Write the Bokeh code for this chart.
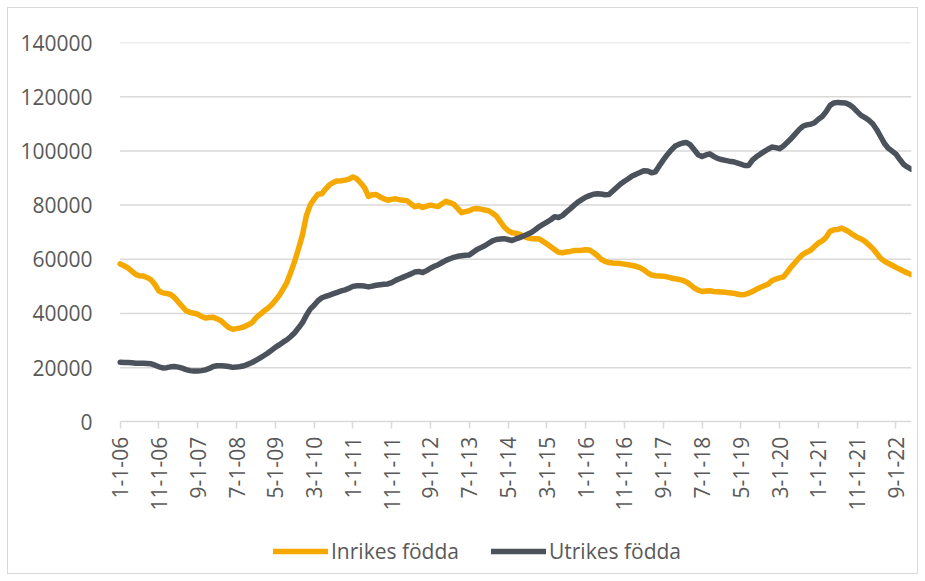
import math
from bokeh.plotting import figure
from bokeh.models import ColumnDataSource, FixedTicker, Legend, LegendItem, NumeralTickFormatter
from bokeh.embed import file_html
from bokeh.resources import INLINE

# Monthly values, Jan 2006 .. Jan 2023 (thousands)
inrikes_k = [
    58.3, 57.6, 56.8, 55.6, 54.4, 53.9, 53.8, 53.2, 52.4, 50.6,
    48.3, 47.6, 47.4, 47.0, 45.9, 44.2, 42.6, 41.0, 40.4, 40.1,
    39.7, 38.9, 38.3, 38.5, 38.6, 38.0, 37.3, 36.0, 34.8, 34.2,
    34.4, 34.7, 35.1, 35.8, 36.6, 38.3, 39.6, 40.8, 41.8, 43.1,
    44.8, 46.6, 49.0, 51.5, 55.3, 59.3, 64.0, 69.0, 76.0, 80.0,
    82.2, 84.0, 84.2, 86.0, 87.5, 88.4, 88.9, 89.0, 89.2, 89.6,
    90.4, 89.7, 88.2, 86.4, 83.2, 83.8, 83.9, 83.0, 82.3, 81.8,
    82.1, 82.3, 82.0, 81.8, 81.6, 80.4, 79.4, 79.8, 79.1, 79.6,
    80.0, 79.7, 79.5, 80.5, 81.4, 80.9, 80.3, 78.8, 77.2, 77.6,
    77.9, 78.6, 78.7, 78.5, 78.2, 77.9, 77.0, 75.9, 73.9, 71.9,
    70.6, 69.8, 69.6, 69.2, 68.5, 67.9, 67.6, 67.6, 67.5, 66.6,
    65.7, 64.6, 63.6, 62.6, 62.4, 62.7, 62.9, 63.2, 63.2, 63.3,
    63.5, 63.4, 62.5, 61.4, 60.0, 59.2, 58.8, 58.6, 58.5, 58.4,
    58.2, 58.0, 57.7, 57.4, 56.9, 56.1, 55.0, 54.2, 53.9, 53.8,
    53.7, 53.5, 53.1, 52.8, 52.6, 52.2, 51.6, 50.6, 49.4, 48.6,
    48.1, 48.3, 48.4, 48.1, 48.0, 47.9, 47.8, 47.6, 47.5, 47.2,
    46.9, 47.0, 47.5, 48.1, 48.9, 49.6, 50.2, 50.8, 52.1, 52.7,
    53.1, 53.5, 55.3, 57.2, 58.8, 60.5, 61.8, 62.6, 63.3, 64.7,
    66.0, 66.8, 68.1, 70.3, 70.9, 71.0, 71.5, 70.8, 70.0, 69.0,
    68.1, 67.5, 66.6, 65.3, 64.0, 62.2, 60.4, 59.3, 58.5, 57.8,
    57.0, 56.3, 55.6, 54.9, 54.3,
]
utrikes_k = [
    22.0, 21.9, 21.9, 21.8, 21.6, 21.6, 21.6, 21.5, 21.4, 20.9,
    20.3, 19.9, 20.0, 20.3, 20.4, 20.2, 19.8, 19.3, 18.9, 18.8,
    18.8, 18.9, 19.2, 19.7, 20.4, 20.7, 20.7, 20.6, 20.4, 20.1,
    20.2, 20.4, 20.7, 21.3, 21.9, 22.7, 23.5, 24.4, 25.3, 26.4,
    27.5, 28.4, 29.4, 30.3, 31.5, 32.9, 34.7, 36.6, 39.3, 41.6,
    43.0, 44.7, 45.8, 46.3, 46.8, 47.3, 47.8, 48.3, 48.7, 49.3,
    50.0, 50.2, 50.2, 50.1, 49.8, 50.1, 50.4, 50.6, 50.8, 50.9,
    51.4, 52.2, 52.8, 53.4, 54.0, 54.6, 55.3, 55.5, 55.1, 55.8,
    56.7, 57.4, 58.0, 58.8, 59.6, 60.2, 60.7, 61.1, 61.3, 61.5,
    61.6, 62.6, 63.6, 64.3, 65.0, 65.9, 66.8, 67.3, 67.5, 67.6,
    67.3, 66.9, 67.5, 68.0, 68.6, 69.2, 69.9, 70.9, 72.0, 72.9,
    73.7, 74.6, 75.7, 75.4, 76.1, 77.4, 78.6, 79.9, 81.1, 82.0,
    82.9, 83.5, 84.0, 84.2, 84.1, 83.8, 83.9, 85.2, 86.5, 87.8,
    88.8, 89.7, 90.7, 91.4, 92.0, 92.7, 92.6, 91.9, 92.3, 94.5,
    96.6, 98.5, 100.2, 101.7, 102.4, 102.9, 103.1, 102.2, 100.4, 98.6,
    97.9, 98.5, 98.9, 98.0, 97.2, 96.8, 96.5, 96.2, 96.0, 95.6,
    95.1, 94.6, 94.6, 96.6, 97.8, 98.8, 99.7, 100.6, 101.4, 101.2,
    100.8, 101.8, 103.2, 104.6, 106.2, 107.8, 109.1, 109.6, 109.8, 110.4,
    111.7, 112.7, 114.5, 116.8, 117.7, 117.9, 117.8, 117.7, 117.0, 116.0,
    114.5, 113.1, 112.3, 111.3, 110.0, 107.9, 105.4, 102.8, 101.0, 99.9,
    98.8, 96.8, 95.0, 94.0, 93.2,
]
tick_labels = [
    "1-1-06", "11-1-06", "9-1-07", "7-1-08", "5-1-09", "3-1-10", "1-1-11",
    "11-1-11", "9-1-12", "7-1-13", "5-1-14", "3-1-15", "1-1-16", "11-1-16",
    "9-1-17", "7-1-18", "5-1-19", "3-1-20", "1-1-21", "11-1-21", "9-1-22",
]
tick_step = 10
y_ticks = [0, 20000, 40000, 60000, 80000, 100000, 120000, 140000]
series_names = ["Inrikes födda", "Utrikes födda"]

months = list(range(len(inrikes_k)))
last = len(months) - 1
src = ColumnDataSource(dict(
    m=months,
    inrikes=[v * 1000 for v in inrikes_k],
    utrikes=[v * 1000 for v in utrikes_k],
))
grid_src = ColumnDataSource(dict(
    y=y_ticks[1:],
    x0=[0] * (len(y_ticks) - 1),
    x1=[last] * (len(y_ticks) - 1),
))

FONT = "Open Sans"
TXT = "#595959"
GRID = "#d9d9d9"
ORANGE = "#f5a800"
DARK = "#4b525c"

# frame extends below zero to host the x labels and legend (axis pinned at 0),
# and a little left of the first month so the first tick label is not clipped
p = figure(width=911, height=567, output_backend="svg", toolbar_location=None,
           x_range=(-3, last), y_range=(-56340, 140000),
           min_border_left=100, min_border_right=8, min_border_top=34,
           min_border_bottom=1)
p.outline_line_color = None
p.styles = {"border": "1px solid #d9d9d9", "box-sizing": "border-box",
            "margin-left": "7px", "margin-top": "7px"}

# horizontal gridlines across the data span
p.segment(x0="x0", x1="x1", y0="y", y1="y", source=grid_src,
          line_color=GRID, line_width=1.5)

r1 = p.line("m", "inrikes", source=src, line_color=ORANGE, line_width=5.5,
            line_join="round", line_cap="round")
r2 = p.line("m", "utrikes", source=src, line_color=DARK, line_width=5.5,
            line_join="round", line_cap="round")

# x axis
xt = [i * tick_step for i in range(len(tick_labels))]
p.xaxis.fixed_location = 0
p.xaxis.bounds = (0, last)
p.xaxis.ticker = FixedTicker(ticks=xt)
p.xaxis.major_label_overrides = {t: lab for t, lab in zip(xt, tick_labels)}
p.xaxis.major_label_orientation = math.pi / 2
p.xaxis.axis_line_color = GRID
p.xaxis.axis_line_width = 1.5
p.xaxis.major_tick_line_color = GRID
p.xaxis.major_tick_line_width = 1.5
p.xaxis.major_tick_out = 7
p.xaxis.major_tick_in = 0
p.xaxis.minor_tick_line_color = None
p.xaxis.major_label_text_font = FONT
p.xaxis.major_label_text_font_size = "21px"
p.xaxis.major_label_text_color = TXT
p.xaxis.major_label_standoff = 8
p.xgrid.grid_line_color = None

# y axis
p.yaxis.ticker = FixedTicker(ticks=y_ticks)
p.yaxis.formatter = NumeralTickFormatter(format="0")
p.yaxis.axis_line_color = None
p.yaxis.major_tick_line_color = None
p.yaxis.minor_tick_line_color = None
p.yaxis.major_label_text_font = FONT
p.yaxis.major_label_text_font_size = "21px"
p.yaxis.major_label_text_color = TXT
p.yaxis.major_label_standoff = 10
p.ygrid.grid_line_color = None

legend = Legend(items=[LegendItem(label=series_names[0], renderers=[r1]),
                       LegendItem(label=series_names[1], renderers=[r2])],
                orientation="horizontal", location=(165, 9),
                label_text_font=FONT, label_text_font_size="21px",
                label_text_color=TXT, glyph_width=55, glyph_height=20,
                label_standoff=3, spacing=32, padding=0, margin=0,
                border_line_color=None, background_fill_alpha=0)
p.add_layout(legend, "center")

open("out.html", "w").write(file_html(p, INLINE))
